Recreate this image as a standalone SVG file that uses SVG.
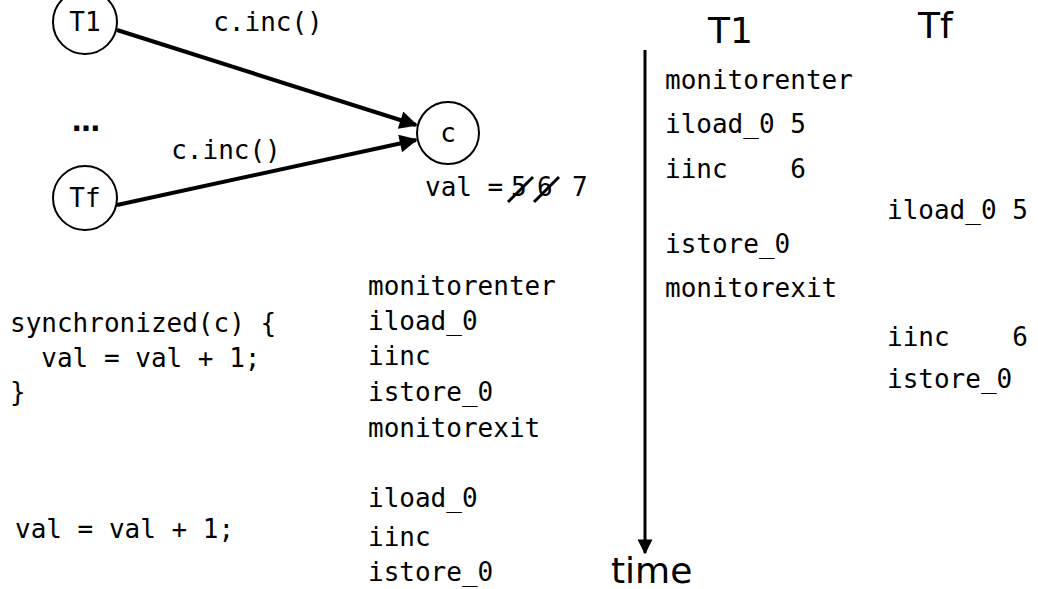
<svg xmlns="http://www.w3.org/2000/svg" width="1038" height="589" viewBox="0 0 1038 589">
<defs>
<style>
.code{font-family:"DejaVu Sans Mono","Liberation Mono",monospace;font-size:26px;fill:#000}
.lbl{font-family:"DejaVu Sans Mono","Liberation Mono",monospace;font-size:26px;fill:#000;text-anchor:middle}
.hdr{font-family:"DejaVu Sans","Liberation Sans",sans-serif;font-size:36px;fill:#000}
.node{fill:#fff;stroke:#000;stroke-width:2}
.edge{stroke:#000;stroke-width:4;fill:none}
.strike{stroke:#000;stroke-width:3}
</style>
<marker id="ah" viewBox="0 0 10 10" refX="9" refY="5" markerWidth="5.5" markerHeight="4.5" markerUnits="strokeWidth" orient="auto">
<path d="M0,0 L10,5 L0,10 z" fill="#000"/>
</marker>
<marker id="ah2" viewBox="0 0 10 10" refX="9" refY="5" markerWidth="6" markerHeight="5" markerUnits="strokeWidth" orient="auto">
<path d="M0,0 L10,5 L0,10 z" fill="#000"/>
</marker>
</defs>
<rect width="1038" height="589" fill="#fff"/>
<g id="connectors">
<line class="edge" x1="117" y1="30" x2="416" y2="125" marker-end="url(#ah)"/>
<line class="edge" x1="117" y1="205" x2="416" y2="140" marker-end="url(#ah)"/>
<text class="lbl" x="268" y="31">c.inc()</text>
<text class="lbl" x="226" y="159">c.inc()</text>
</g>
<g id="node-T1">
<circle class="node" cx="85" cy="22" r="32"/>
<text class="lbl" x="85" y="31">T1</text>
</g>
<g id="node-Tf">
<circle class="node" cx="85" cy="198" r="32"/>
<text class="lbl" x="85" y="207">Tf</text>
</g>
<g id="node-c">
<circle class="node" cx="448" cy="133" r="31"/>
<text class="lbl" x="448" y="142">c</text>
</g>
<text x="86" y="131" font-family="DejaVu Sans, sans-serif" font-size="28" font-weight="bold" text-anchor="middle">…</text>
<g id="val">
<text class="code" x="425" y="196">val =</text>
<text class="code" x="511" y="196">5</text>
<text class="code" x="537" y="196">6</text>
<text class="code" x="572" y="196">7</text>
<line class="strike" x1="508" y1="202" x2="533" y2="177"/>
<line class="strike" x1="534" y1="202" x2="559" y2="177"/>
</g>
<g id="left-code">
<text class="code" x="10" y="332">synchronized(c) {</text>
<text class="code" x="10" y="367" xml:space="preserve">  val = val + 1;</text>
<text class="code" x="10" y="401">}</text>
<text class="code" x="15" y="538">val = val + 1;</text>
</g>
<g id="mid-code">
<text class="code" x="368" y="295">monitorenter</text>
<text class="code" x="368" y="330">iload_0</text>
<text class="code" x="368" y="365">iinc</text>
<text class="code" x="368" y="401">istore_0</text>
<text class="code" x="368" y="437">monitorexit</text>
<text class="code" x="368" y="507">iload_0</text>
<text class="code" x="368" y="546">iinc</text>
<text class="code" x="368" y="581">istore_0</text>
</g>
<g id="timeline">
<line x1="645" y1="50" x2="645" y2="553" stroke="#000" stroke-width="3" marker-end="url(#ah2)"/>
<text class="hdr" x="611" y="583" font-size="32">time</text>
<text class="hdr" x="708" y="43">T1</text>
<text class="hdr" x="918" y="38">Tf</text>
</g>
<g id="trace">
<text class="code" x="665" y="89">monitorenter</text>
<text class="code" x="665" y="133" xml:space="preserve">iload_0 5</text>
<text class="code" x="665" y="178" xml:space="preserve">iinc    6</text>
<text class="code" x="887" y="219" xml:space="preserve">iload_0 5</text>
<text class="code" x="665" y="253">istore_0</text>
<text class="code" x="665" y="297">monitorexit</text>
<text class="code" x="887" y="346" xml:space="preserve">iinc    6</text>
<text class="code" x="887" y="388">istore_0</text>
</g>
</svg>
